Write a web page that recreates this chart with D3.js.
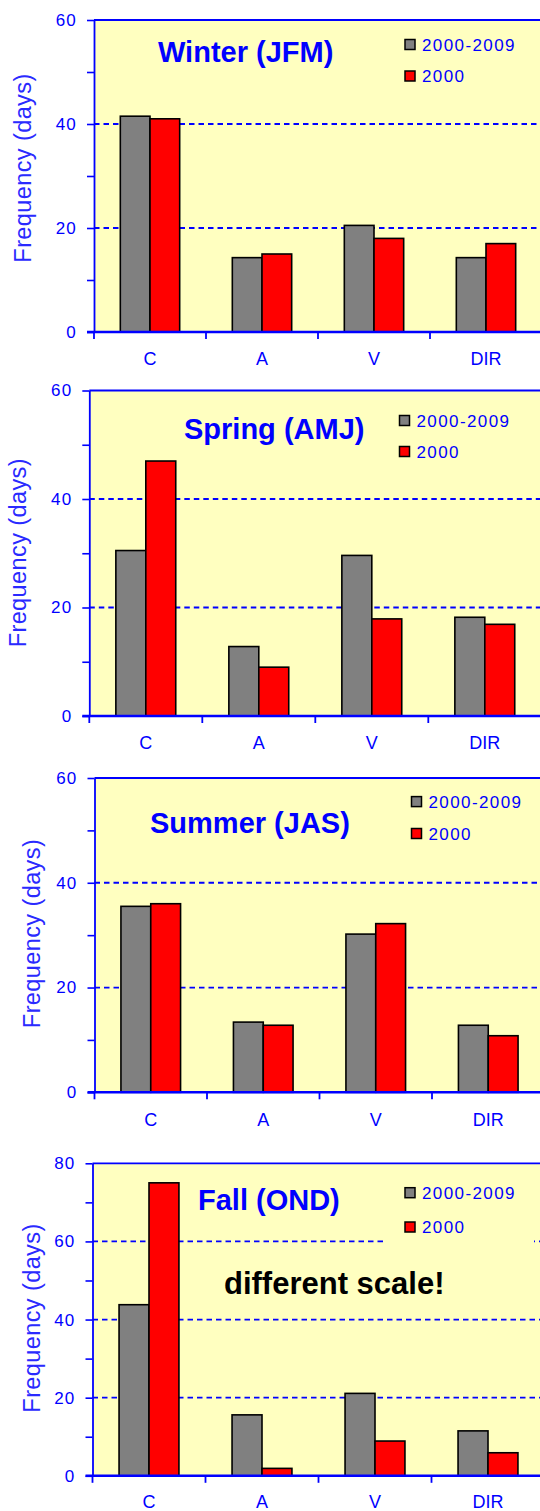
<!DOCTYPE html>
<html>
<head>
<meta charset="utf-8">
<script src="https://cdn.jsdelivr.net/npm/d3@7"></script>
<style>
  html, body { margin: 0; padding: 0; background: #ffffff; }
  svg { display: block; }
  text { font-family: "Liberation Sans", Arial, sans-serif; }
</style>
</head>
<body>
<svg id="chart" width="540" height="1511"></svg>
<script>
// ---- data ----
const categories = ["C", "A", "V", "DIR"];
const seriesNames = ["2000-2009", "2000"];
const winterDecade = [41.5, 14.3, 20.5, 14.3];
const winter2000   = [41.0, 15.0, 18.0, 17.0];
const springDecade = [30.5, 12.8, 29.6, 18.2];
const spring2000   = [47.0, 9.0, 17.9, 16.9];
const summerDecade = [35.5, 13.4, 30.2, 12.8];
const summer2000   = [36.0, 12.8, 32.2, 10.8];
const fallDecade   = [43.8, 15.6, 21.1, 11.5];
const fall2000     = [75.0, 1.9, 8.9, 5.9];
const titles = ["Winter (JFM)", "Spring (AMJ)", "Summer (JAS)", "Fall (OND)"];
const yMax = [60, 60, 60, 80];
const yAxisTitle = "Frequency (days)";
const noteText = "different scale!";

const seasonData = [
  [winterDecade, winter2000],
  [springDecade, spring2000],
  [summerDecade, summer2000],
  [fallDecade, fall2000]
];

// ---- layout (positions only) ----
const layout = [
  { left: 94,   top: 20,     bottom: 332,    step: 112,   titleX: 158, titleY: 62,     legX: 405,   legY: [44.5, 76],      ytX: 30.5, ytY: 168 },
  { left: 89.3, top: 390.5,  bottom: 716,    step: 113,   titleX: 184, titleY: 438.5,  legX: 399.5, legY: [420.5, 451.5], ytX: 25.7, ytY: 552.7 },
  { left: 94.5, top: 778,    bottom: 1092.3, step: 112.5, titleX: 150, titleY: 832.5,  legX: 411.5, legY: [801.6, 833.5], ytX: 39.5, ytY: 933.5 },
  { left: 92.5, top: 1163.3, bottom: 1475.8, step: 113,   titleX: 198, titleY: 1210,   legX: 405,   legY: [1192.7, 1227],  ytX: 39.5, ytY: 1318 }
];

const BLUE = "#0000ff";
const PLOT_BG = "#ffffc0";
const colors = { "2000-2009": "#808080", "2000": "#ff0000" };

const svg = d3.select("#chart");
svg.append("rect").attr("width", 540).attr("height", 1511).attr("fill", "#ffffff");

seasonData.forEach((pair, i) => {
  const L = layout[i];
  const g = svg.append("g");
  const y = d3.scaleLinear().domain([0, yMax[i]]).range([L.bottom, L.top]);
  const x0 = d3.scaleBand().domain(categories)
    .range([L.left, L.left + categories.length * L.step])
    .paddingInner(0.47).paddingOuter(0.235);
  const x1 = d3.scaleBand().domain(seriesNames).range([0, x0.bandwidth()]);
  const rightEdge = 560;

  // plot background
  g.append("rect")
    .attr("x", L.left).attr("y", L.top)
    .attr("width", rightEdge - L.left).attr("height", L.bottom - L.top)
    .attr("fill", PLOT_BG);

  // gridlines
  const gridVals = d3.range(20, yMax[i], 20);
  g.selectAll(".grid").data(gridVals).join("line")
    .attr("x1", L.left).attr("x2", rightEdge)
    .attr("y1", d => y(d)).attr("y2", d => y(d))
    .attr("stroke", BLUE).attr("stroke-width", 1.8)
    .attr("stroke-dasharray", "5.5,4");

  // legend background
  g.append("rect")
    .attr("x", L.legX - 19).attr("y", L.legY[0] - 22)
    .attr("width", 148).attr("height", L.legY[1] - L.legY[0] + 46)
    .attr("fill", PLOT_BG);

  // bars
  const rows = categories.map((c, ci) => ({ cat: c, vals: seriesNames.map((s, si) => ({ s, v: pair[si][ci] })) }));
  const cg = g.selectAll(".cat").data(rows).join("g")
    .attr("transform", d => `translate(${x0(d.cat)},0)`);
  cg.selectAll("rect").data(d => d.vals).join("rect")
    .attr("x", d => x1(d.s))
    .attr("y", d => y(d.v))
    .attr("width", x1.bandwidth())
    .attr("height", d => y(0) - y(d.v))
    .attr("fill", d => colors[d.s])
    .attr("stroke", "#000").attr("stroke-width", 1.6);

  // top border
  g.append("line")
    .attr("x1", L.left).attr("x2", rightEdge)
    .attr("y1", L.top).attr("y2", L.top)
    .attr("stroke", BLUE).attr("stroke-width", 1.8);

  // y axis
  const yAxis = d3.axisLeft(y)
    .tickValues(d3.range(0, yMax[i] + 1, 10))
    .tickSize(7).tickSizeOuter(0).tickPadding(10)
    .tickFormat(d => d % 20 === 0 ? d : "");
  const ya = g.append("g").attr("transform", `translate(${L.left},0)`).call(yAxis);
  ya.select(".domain").attr("stroke", BLUE).attr("stroke-width", 1.8);
  ya.selectAll(".tick line").attr("stroke", BLUE).attr("stroke-width", 1.6);
  ya.selectAll(".tick text")
    .attr("fill", BLUE).attr("font-size", 17).attr("letter-spacing", "1.2px")
    .attr("font-family", '"Liberation Sans", Arial, sans-serif');

  // x axis baseline
  g.append("line")
    .attr("x1", L.left - 7).attr("x2", rightEdge)
    .attr("y1", L.bottom).attr("y2", L.bottom)
    .attr("stroke", BLUE).attr("stroke-width", 2.4);
  // category boundary ticks
  const bounds = categories.map(c => x0(c) - x0.step() * x0.paddingInner() / 2);
  bounds.push(bounds[bounds.length - 1] + x0.step());
  g.selectAll(".xt").data(bounds).join("line")
    .attr("x1", d => d).attr("x2", d => d)
    .attr("y1", L.bottom).attr("y2", L.bottom + 7)
    .attr("stroke", BLUE).attr("stroke-width", 1.8);
  // category labels
  const xAxis = d3.axisBottom(x0).tickSize(0).tickPadding(i === 3 ? 19.5 : 20.5);
  const xa = g.append("g").attr("transform", `translate(0,${L.bottom})`).call(xAxis);
  xa.select(".domain").remove();
  xa.selectAll(".tick text")
    .attr("fill", BLUE).attr("font-size", 18)
    .attr("font-family", '"Liberation Sans", Arial, sans-serif');

  // y axis title
  g.append("text")
    .attr("transform", `translate(${L.ytX},${L.ytY}) rotate(-90)`)
    .attr("text-anchor", "middle")
    .attr("fill", "#2a2aff").attr("font-size", 23.5)
    .attr("letter-spacing", "0.4px")
    .text(yAxisTitle);

  // title
  g.append("text")
    .attr("x", L.titleX).attr("y", L.titleY)
    .attr("fill", BLUE).attr("font-size", 29).attr("font-weight", "bold")
    .text(titles[i]);

  // legend
  seriesNames.forEach((s, si) => {
    const cy = L.legY[si];
    g.append("rect")
      .attr("x", L.legX).attr("y", cy - 5)
      .attr("width", 10).attr("height", 10)
      .attr("fill", colors[s]).attr("stroke", "#000").attr("stroke-width", 1.5);
    g.append("text")
      .attr("x", L.legX + 17).attr("y", cy).attr("dy", "0.36em")
      .attr("fill", BLUE).attr("font-size", 17).attr("letter-spacing", "1.4px")
      .text(s);
  });

  if (i === 3) {
    g.append("text")
      .attr("x", 224).attr("y", 1294)
      .attr("fill", "#000").attr("font-size", 31).attr("font-weight", "bold")
      .text(noteText);
  }
});
</script>
</body>
</html>
